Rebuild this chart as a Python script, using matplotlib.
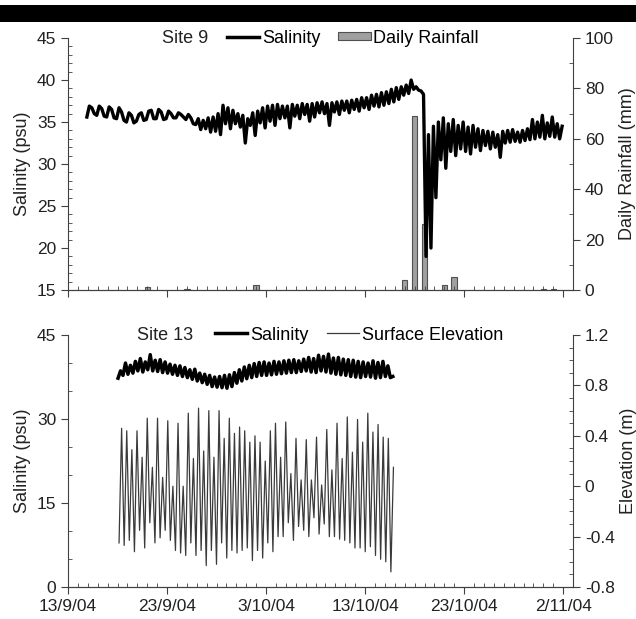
import numpy as np
import pandas as pd
import matplotlib.pyplot as plt
import matplotlib.dates as mdates
from matplotlib.ticker import MultipleLocator, FixedLocator, FuncFormatter
from matplotlib.lines import Line2D
from matplotlib.patches import Patch, Rectangle

plt.rcParams["font.family"] = ["Liberation Sans", "DejaVu Sans"]

start = pd.Timestamp("2004-09-13")

# site 9 salinity, sampled every 0.25 day starting 1.9 days after 13/9
sal9_t0, sal9_step = 1.9, 0.25
sal9 = [
    35.6, 36.9, 36.7, 36.0, 35.8, 36.9, 36.6, 35.7,
    35.6, 36.8, 36.5, 35.5, 35.4, 36.7, 36.2, 35.2,
    35.0, 36.1, 35.8, 34.9, 35.1, 35.9, 36.1, 35.2,
    35.3, 36.3, 36.4, 35.4, 35.4, 36.5, 36.2, 35.3,
    35.4, 36.3, 36.0, 35.5, 35.5, 36.1, 35.9, 35.6,
    35.3, 35.9, 35.5, 34.8, 34.7, 35.4, 34.1, 35.2,
    34.2, 35.5, 33.8, 35.6, 33.9, 36.0, 33.5, 37.0,
    34.8, 36.7, 34.2, 36.4, 34.8, 36.0, 34.4, 35.8,
    32.5, 35.4, 34.6, 36.1, 33.4, 36.3, 34.9, 36.7,
    34.3, 36.9, 35.1, 37.0, 34.6, 37.1, 35.4, 36.9,
    35.5, 36.9, 34.3, 37.1, 35.7, 37.0, 35.4, 37.2,
    35.9, 37.1, 35.1, 37.2, 35.6, 37.3, 36.1, 37.4,
    36.0, 37.2, 34.6, 37.3, 36.2, 37.4, 35.9, 37.5,
    36.4, 37.5, 36.1, 37.6, 36.5, 37.7, 36.3, 37.9,
    36.7, 37.9, 36.5, 38.2, 36.9, 38.3, 36.8, 38.5,
    37.0, 38.6, 37.2, 38.9, 37.4, 39.1, 37.7, 39.2,
    38.2, 39.4, 38.4, 40.0, 38.9, 39.2, 38.8, 38.7,
    38.3, 19.0, 33.5, 20.0, 34.5, 26.0, 35.0, 30.5,
    35.5, 29.5, 34.8, 31.5, 35.3, 31.0, 34.6, 31.8,
    35.0, 31.5, 34.4, 31.2, 34.6, 32.0, 34.2, 31.6,
    34.0, 32.2, 33.9, 31.8, 33.8, 32.0, 33.5, 30.8,
    33.9, 32.5, 34.0, 32.6, 34.1, 32.7, 33.8, 32.6,
    34.0, 32.8, 34.2, 32.9, 35.3, 33.0, 35.0, 33.2,
    35.8, 33.0, 34.9, 33.3, 35.6, 33.2, 34.8, 33.0,
    34.5,
]

rain_dates = ["2004-09-21", "2004-09-25", "2004-10-02", "2004-10-17", "2004-10-18",
              "2004-10-19", "2004-10-21", "2004-10-22", "2004-10-31", "2004-11-01"]
rain_mm = [1.0, 0.3, 2.0, 4.0, 69.0, 26.0, 2.0, 5.0, 0.3, 0.3]

# site 13 salinity, every 0.25 day from 5.05 days
sal13_t0, sal13_step = 5.05, 0.25
sal13 = [
    37.3, 38.6, 37.8, 40.0, 38.0, 39.6, 38.2, 40.3,
    38.6, 40.8, 38.4, 40.2, 38.8, 41.5, 38.6, 40.5,
    38.5, 40.6, 38.3, 40.2, 38.2, 39.8, 38.0, 39.6,
    37.8, 39.5, 37.6, 39.2, 37.4, 38.8, 37.1, 38.9,
    36.8, 38.2, 36.5, 38.0, 36.2, 37.8, 35.8, 37.5,
    35.7, 37.6, 35.6, 37.8, 35.5, 37.9, 35.8, 38.3,
    36.4, 38.8, 36.8, 39.3, 37.2, 39.6, 37.4, 39.9,
    37.6, 40.1, 37.8, 40.2, 37.8, 40.0, 37.9, 40.3,
    38.0, 40.2, 38.1, 40.4, 38.2, 40.5, 38.3, 40.6,
    38.3, 40.4, 38.5, 40.7, 38.6, 41.0, 38.4, 40.8,
    38.3, 41.4, 38.6, 41.2, 38.4, 41.6, 38.2, 40.9,
    38.0, 41.0, 37.9, 40.7, 37.8, 40.6, 37.6, 40.5,
    37.5, 40.3, 37.4, 40.2, 37.6, 40.0, 37.5, 40.4,
    37.3, 40.1, 37.4, 40.3, 37.6, 39.5, 37.4, 37.6,
]

# site 13 surface elevation, successive low / high waters every ~0.259 day from 5.15 days
elev_t0, elev_step = 5.15, 0.259
elev = [
    -0.45, 0.46, -0.47, 0.44, -0.43, 0.29, -0.52, 0.44, -0.35, 0.23,
    -0.49, 0.54, -0.29, 0.15, -0.45, 0.54, -0.41, 0.07, -0.35, 0.52,
    -0.43, 0.00, -0.51, 0.50, -0.53, 0.00, -0.55, 0.58, -0.45, 0.22,
    -0.55, 0.62, -0.51, 0.28, -0.63, 0.60, -0.51, 0.23, -0.62, 0.60,
    -0.45, 0.38, -0.57, 0.54, -0.51, 0.42, -0.53, 0.47, -0.51, 0.44,
    -0.49, 0.35, -0.59, 0.40, -0.51, 0.35, -0.57, 0.20, -0.45, 0.44,
    -0.52, 0.50, -0.40, 0.23, -0.40, 0.51, -0.29, 0.10, -0.43, 0.38,
    -0.32, 0.05, -0.35, 0.37, -0.40, 0.05, -0.25, 0.39, -0.38, 0.01,
    -0.30, 0.45, -0.40, 0.13, -0.40, 0.50, -0.42, 0.22, -0.43, 0.55,
    -0.45, 0.27, -0.49, 0.53, -0.49, 0.35, -0.52, 0.58, -0.48, 0.43,
    -0.55, 0.49, -0.58, 0.39, -0.60, 0.38, -0.68, 0.15,
]

major_dates = ["2004-09-13", "2004-09-23", "2004-10-03", "2004-10-13", "2004-10-23", "2004-11-02"]


def times(t0, step, n):
    return (start + pd.to_timedelta(t0 + step * np.arange(n), unit="D")).to_numpy()


def date_label(x, pos):
    d = mdates.num2date(x)
    return f"{d.day}/{d.month}/{d:%y}"


def style_axes(ax, ax2):
    for a in (ax, ax2):
        a.spines["top"].set_visible(False)
        for s in a.spines.values():
            s.set_color("#404040")
        a.tick_params(which="major", direction="out", length=5, color="#404040",
                      labelsize=12.5, labelcolor="#222222")
        a.tick_params(which="minor", direction="in", length=3, color="#404040")
    ax2.spines["left"].set_visible(False)
    ax.spines["right"].set_visible(False)
    ax.xaxis.set_major_locator(FixedLocator(mdates.date2num(pd.to_datetime(major_dates))))
    ax.xaxis.set_minor_locator(mdates.DayLocator())
    ax.xaxis.set_major_formatter(FuncFormatter(date_label))
    ax.set_xlim(start, pd.Timestamp("2004-11-03"))


fig = plt.figure(figsize=(6.36, 6.19), dpi=100)
fig.patches.append(Rectangle((0, 1 - 22 / 619), 1, 17 / 619, transform=fig.transFigure,
                             facecolor="black", edgecolor="none"))

# ---- top panel: site 9
ax1 = fig.add_axes([0.107, 0.5315, 0.794, 0.407])
ax1r = ax1.twinx()
ax1r.bar(pd.to_datetime(rain_dates), rain_mm, width=0.55, facecolor="#a0a0a0",
         edgecolor="#505050", linewidth=0.8)
ax1.plot(times(sal9_t0, sal9_step, len(sal9)), sal9, color="black", lw=2.4)
ax1.set_zorder(ax1r.get_zorder() + 1)
ax1.patch.set_visible(False)
ax1.set_ylim(15, 45)
ax1.yaxis.set_major_locator(MultipleLocator(5))
ax1.yaxis.set_minor_locator(MultipleLocator(1))
ax1r.set_ylim(0, 100)
ax1r.yaxis.set_major_locator(MultipleLocator(20))
ax1r.yaxis.set_minor_locator(MultipleLocator(10))
style_axes(ax1, ax1r)
ax1.tick_params(axis="x", labelbottom=False)
ax1.set_ylabel("Salinity (psu)", fontsize=13, color="#222222", labelpad=4)
ax1r.set_ylabel("Daily Rainfall (mm)", fontsize=13, color="#222222", labelpad=4)

ax1.text(0.277, 1.0, "Site 9", transform=ax1.transAxes, ha="right", va="center",
         fontsize=13, color="#222222")
h1 = [Line2D([], [], color="black", lw=2.5),
      Patch(facecolor="#a0a0a0", edgecolor="#505050", linewidth=0.8)]
ax1.legend(h1, ["Salinity", "Daily Rainfall"], loc="center", bbox_to_anchor=(0.564, 1.0),
           ncol=2, frameon=False, fontsize=13, handlelength=1.8, handleheight=0.35,
           handletextpad=0.15, columnspacing=1.0, borderaxespad=0, borderpad=0)

# ---- bottom panel: site 13
ax2 = fig.add_axes([0.107, 0.0517, 0.794, 0.407])
ax2r = ax2.twinx()
ax2r.plot(times(elev_t0, elev_step, len(elev)), elev, color="#3a3a3a", lw=0.9)
ax2.plot(times(sal13_t0, sal13_step, len(sal13)), sal13, color="black", lw=2.5)
ax2.set_zorder(ax2r.get_zorder() + 1)
ax2.patch.set_visible(False)
ax2.set_ylim(0, 45)
ax2.yaxis.set_major_locator(MultipleLocator(15))
ax2.yaxis.set_minor_locator(MultipleLocator(5))
ax2r.set_ylim(-0.8, 1.2)
ax2r.yaxis.set_major_locator(MultipleLocator(0.4))
ax2r.yaxis.set_minor_locator(MultipleLocator(0.1))
ax2r.yaxis.set_major_formatter(FuncFormatter(lambda v, p: f"{v:g}" if abs(v) > 1e-9 else "0"))
style_axes(ax2, ax2r)
ax2.set_ylabel("Salinity (psu)", fontsize=13, color="#222222", labelpad=4)
ax2r.set_ylabel("Elevation (m)", fontsize=13, color="#222222", labelpad=4)

ax2.text(0.248, 1.0, "Site 13", transform=ax2.transAxes, ha="right", va="center",
         fontsize=13, color="#222222")
h2 = [Line2D([], [], color="black", lw=2.5), Line2D([], [], color="#3a3a3a", lw=0.9)]
ax2.legend(h2, ["Salinity", "Surface Elevation"], loc="center", bbox_to_anchor=(0.576, 1.0),
           ncol=2, frameon=False, fontsize=13, handlelength=1.8,
           handletextpad=0.15, columnspacing=1.0, borderaxespad=0, borderpad=0)

fig.savefig("out.png", dpi=100)
